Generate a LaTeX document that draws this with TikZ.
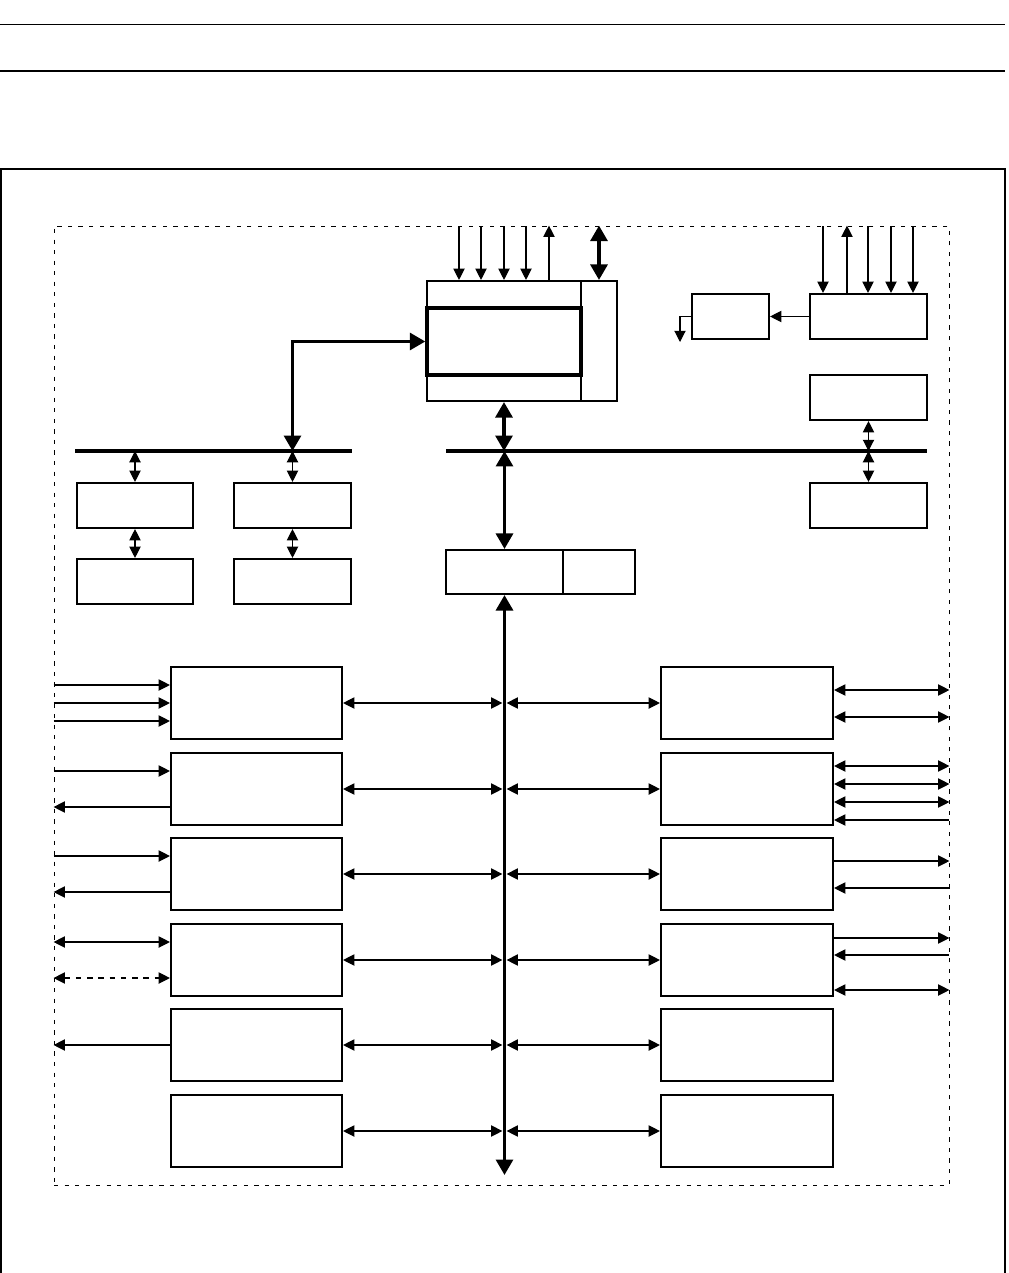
\documentclass[tikz,border=0pt]{standalone}
\usetikzlibrary{arrows.meta,fit}
\tikzset{
  blk/.style    ={draw, line width=1.5pt, inner sep=0pt},
  corebox/.style={blk, line width=2.4pt},
  chipbox/.style={draw, line width=0.6pt, inner sep=0pt,
                  dash pattern=on 3pt off 4.5pt},
  sig/.style    ={line width=0.8pt, >={Triangle[length=8pt,width=8pt]}},
  fat/.style    ={line width=2.4pt, >={Triangle[length=11pt,width=12pt]}},
  bus/.style    ={line width=2.4pt},
}
% the six peripheral rows: index / top edge (px)
\def\rowlist{1/667, 2/753, 3/838, 4/924, 5/1009, 6/1095}
% pins on the left edge of the chip: row box / y / direction
\def\leftpins{L1/685/->, L1/703/->, L1/721/->, L2/771/->, L2/807/<-,
              L3/856/->, L3/892/<-, L4/942/<->, L5/1045/<-}
\def\rightpins{R1/690/<->, R1/717/<->, R2/766/<->, R2/784/<->, R2/802/<->,
               R2/820/<-, R3/861/->, R3/888/<-, R4/938/->, R4/955/<-,
               R4/990/<->}
\begin{document}
\begin{tikzpicture}[x=0.25mm, y=-0.25mm]
\useasboundingbox (0,0) rectangle (1009,1273);
% page rules and outer frame
\draw[line width=0.7pt] (0,24) -- (1005,24);
\draw[line width=1.4pt] (0,71) -- (1005,71);
\draw[line width=1.4pt] (1,1290) -- (1,169) -- (1005,169) -- (1005,1290);

\node[chipbox, fit={(54,226)(949,1185)}] (chip) {};

% processor block
\node[blk, fit={(427,281)(581,401)}] (cpuL) {};
\node[blk, fit={(581,281)(617,401)}] (cpuR) {};
\node[corebox, fit={(427,308)(581,375)}] (core) {};
\foreach \x/\dir in {459/<-, 481/<-, 504/<-, 526/<-, 549/->}
  \draw[sig,\dir] (\x,0 |- cpuL.north) -- (\x,0 |- chip.north);
\draw[fat,<->] (cpuR.north) -- (cpuR.north |- chip.north);

% control and driver, top right
\node[blk, fit={(810,294)(927,339)}] (ctl) {};
\node[blk, fit={(692,294)(769,339)}] (drv) {};
\coordinate (drvout) at (680,342);
\foreach \x/\dir in {823/<-, 847/->, 868/<-, 891/<-, 913/<-}
  \draw[sig,\dir] (\x,0 |- ctl.north) -- (\x,0 |- chip.north);
\draw[sig,->] (ctl.west) -- (drv.east);
\draw[sig,->] (drv.west) -| (drvout);

% the two buses
\coordinate (lbusW) at (75,451);  \coordinate (lbusE) at (352,451);
\coordinate (rbusW) at (446,451); \coordinate (rbusE) at (927,451);
\draw[bus] (lbusW) -- (lbusE);
\draw[bus] (rbusW) -- (rbusE);

\node[blk, fit={(77,483)(193,528)}]  (lb1) {};
\node[blk, fit={(234,483)(351,528)}] (lb2) {};
\node[blk, fit={(77,559)(193,604)}]  (lb3) {};
\node[blk, fit={(234,559)(351,604)}] (lb4) {};
\node[blk, fit={(810,375)(927,420)}] (rb1) {};
\node[blk, fit={(810,483)(927,528)}] (rb2) {};
\draw[sig,<->] (lb1.north |- lbusW) -- (lb1.north);
\draw[sig,<->] (lb2.north |- lbusW) -- (lb2.north);
\draw[sig,<->] (lb1.south) -- (lb3.north);
\draw[sig,<->] (lb2.south) -- (lb4.north);
\draw[sig,<->] (rb1.south) -- (rb1.south |- rbusW);
\draw[sig,<->] (rb2.north |- rbusW) -- (rb2.north);
\draw[fat,<->] (core.west) -| (lb2.north |- lbusW);

% bridge and peripheral bus
\node[blk, fit={(446,550)(563,594)}] (bridge) {};
\node[blk, fit={(563,550)(635,594)}] (bridgeR) {};
\coordinate (pbusS) at (504.5,1175);
\draw[fat,<->] (cpuL.south) -- (cpuL.south |- rbusW);
\draw[fat,<->] (bridge.north |- rbusW) -- (bridge.north);
\draw[fat,<->] (bridge.south) -- (pbusS);

\foreach \i/\t in \rowlist {
  \node[blk, fit={(171,\t)(342,\t+72)}] (L\i) {};
  \node[blk, fit={(661,\t)(833,\t+72)}] (R\i) {};
  \draw[sig,<->,shorten >=1.5pt] (L\i.east) -- (L\i.east -| pbusS);
  \draw[sig,<->,shorten <=1.5pt] (R\i.west -| pbusS) -- (R\i.west);
}
\foreach \b/\y/\dir in \leftpins
  \draw[sig,\dir] (0,\y -| chip.west) -- (0,\y -| \b.west);
\draw[sig,<->,dash pattern=on 4pt off 4pt] (0,978 -| chip.west) -- (0,978 -| L4.west);
\foreach \b/\y/\dir in \rightpins
  \draw[sig,\dir] (0,\y -| \b.east) -- (0,\y -| chip.east);
\end{tikzpicture}
\end{document}
